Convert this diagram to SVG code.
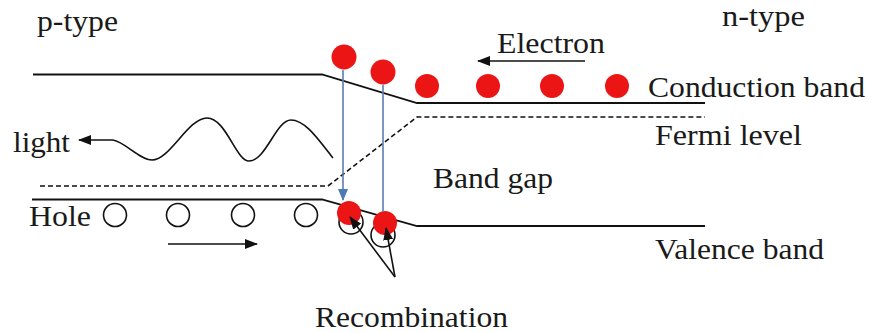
<svg xmlns="http://www.w3.org/2000/svg" width="869" height="333" viewBox="0 0 869 333">
<style>
  .t { font-family: "Liberation Serif", "Times New Roman", Times, Tinos, "Nimbus Roman", FreeSerif, "Noto Serif", "DejaVu Serif", serif; font-size: 30px; fill: #1a1a1a; }
  .band { fill: none; stroke: #111; stroke-width: 1.8; }
  .fermi { fill: none; stroke: #111; stroke-width: 1.6; stroke-dasharray: 5 3; }
  .e { fill: #ec1515; }
  .hole { fill: none; stroke: #111; stroke-width: 1.6; }
  .blue { stroke: #5a7db0; stroke-width: 1.6; fill: none; }
  .blk { stroke: #111; stroke-width: 1.6; fill: none; }
</style>
<defs>
  <marker id="ah" markerWidth="13" markerHeight="10" refX="12" refY="5" orient="auto" markerUnits="userSpaceOnUse">
    <path d="M0,0 L13,5 L0,10 Z" fill="#111"/>
  </marker>
  <marker id="ahb" markerWidth="12" markerHeight="10" refX="11" refY="5" orient="auto" markerUnits="userSpaceOnUse">
    <path d="M0,0 L12,5 L0,10 Z" fill="#4f78b5"/>
  </marker>
</defs>
<rect width="869" height="333" fill="#fff"/>

<g id="labels">
  <text class="t" x="37" y="31" textLength="81" lengthAdjust="spacingAndGlyphs">p-type</text>
  <text class="t" x="722" y="26" textLength="83" lengthAdjust="spacingAndGlyphs">n-type</text>
  <text class="t" x="497" y="53" textLength="108" lengthAdjust="spacingAndGlyphs">Electron</text>
  <text class="t" x="648" y="97" textLength="217" lengthAdjust="spacingAndGlyphs">Conduction band</text>
  <text class="t" x="655" y="145" textLength="147" lengthAdjust="spacingAndGlyphs">Fermi level</text>
  <text class="t" x="433" y="188" textLength="120" lengthAdjust="spacingAndGlyphs">Band gap</text>
  <text class="t" x="655" y="259" textLength="169" lengthAdjust="spacingAndGlyphs">Valence band</text>
  <text class="t" x="315" y="327" textLength="193" lengthAdjust="spacingAndGlyphs">Recombination</text>
  <text class="t" x="13" y="152" textLength="57" lengthAdjust="spacingAndGlyphs">light</text>
  <text class="t" x="29" y="226" textLength="62" lengthAdjust="spacingAndGlyphs">Hole</text>
</g>

<g id="bands">
  <path id="conduction" class="band" d="M33,74.5 L322,74.5 L417,103 L705,103"/>
  <path id="fermi" class="fermi" d="M40,186 L328,186 L417,117 L705,117"/>
  <path id="valence" class="band" d="M32,199.5 L322,199.5 L417,226 L705,226"/>
</g>

<g id="holes">
  <circle class="hole" cx="115" cy="215" r="11.5"/>
  <circle class="hole" cx="178" cy="215" r="11.5"/>
  <circle class="hole" cx="243" cy="215" r="11.5"/>
  <circle class="hole" cx="306" cy="215" r="11.5"/>
  <circle class="hole" cx="351" cy="222" r="12"/>
  <circle class="hole" cx="383" cy="235" r="12"/>
</g>

<g id="electrons">
  <circle class="e" cx="344" cy="57" r="12.5"/>
  <circle class="e" cx="383" cy="72" r="12.5"/>
  <circle class="e" cx="427" cy="86" r="12"/>
  <circle class="e" cx="488" cy="86" r="12"/>
  <circle class="e" cx="552" cy="86" r="12"/>
  <circle class="e" cx="617" cy="86" r="12"/>
  <circle class="e" cx="349" cy="213" r="12"/>
  <circle class="e" cx="385" cy="223" r="12"/>
</g>

<g id="connectors">
  <line class="blue" x1="343" y1="70" x2="343" y2="200" marker-end="url(#ahb)"/>
  <line class="blue" x1="383" y1="85" x2="383" y2="212"/>
  <line class="blk" x1="585" y1="61" x2="478" y2="61" marker-end="url(#ah)"/>
  <line class="blk" x1="168" y1="244" x2="257" y2="244" marker-end="url(#ah)"/>
  <path class="blk" d="M113,140 C125,142 140,160 152,160 C170,160 188,118 207,118 C226,118 236,161 249,161 C266,161 276,120 291,120 C306,120 320,142 333,158"/>
  <line class="blk" x1="113" y1="140" x2="79" y2="140" marker-end="url(#ah)"/>
  <line class="blk" x1="395" y1="277" x2="350" y2="217" marker-end="url(#ah)"/>
  <line class="blk" x1="395" y1="277" x2="386" y2="228" marker-end="url(#ah)"/>
</g>
</svg>
